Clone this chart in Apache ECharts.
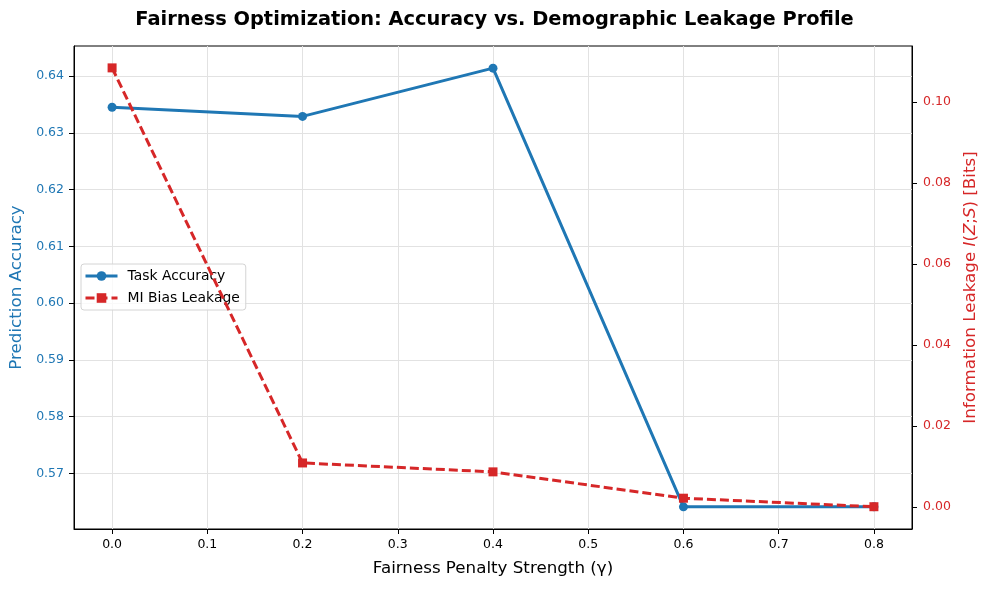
<!DOCTYPE html>
<html>
<head>
<meta charset="utf-8">
<script src="https://cdn.jsdelivr.net/npm/echarts@6/dist/echarts.min.js"></script>
<style>
  html, body { margin: 0; padding: 0; background: #fff; }
  #chart { width: 989px; height: 590px; }
</style>
</head>
<body>
<div id="chart"></div>
<script>
// penalty strengths (x) and the two measured series
var gammaValues = [0.0, 0.2, 0.4, 0.6, 0.8];
var taskAccuracy = [0.6345, 0.6329, 0.6414, 0.5641, 0.5641];
var miLeakage = [0.1084, 0.0109, 0.0087, 0.0022, 0.0001];

var xTicks = [0.0, 0.1, 0.2, 0.3, 0.4, 0.5, 0.6, 0.7, 0.8];
var accTicks = [0.57, 0.58, 0.59, 0.60, 0.61, 0.62, 0.63, 0.64];
var leakTicks = [0.00, 0.02, 0.04, 0.06, 0.08, 0.10];

var blue = '#1f77b4';
var red = '#d62728';
var font = 'DejaVu Sans';

function pairs(xs, ys) {
  var out = [];
  for (var i = 0; i < xs.length; i++) out.push([xs[i], ys[i]]);
  return out;
}

var myChart = echarts.init(document.getElementById('chart'));
var option = {
  backgroundColor: '#fff',
  animation: false,
  textStyle: { fontFamily: font },
  title: {
    text: 'Fairness Optimization: Accuracy vs. Demographic Leakage Profile',
    left: 'center',
    top: 5,
    textStyle: { fontFamily: font, fontSize: 19.4, fontWeight: 'bold', color: '#000' }
  },
  grid: {
    left: 74, right: 77, top: 46, bottom: 61,
    outerBoundsMode: 'none',
    show: true, borderColor: '#000', borderWidth: 1, backgroundColor: 'transparent'
  },
  legend: {
    orient: 'vertical',
    left: 81, top: 264,
    itemWidth: 32, itemHeight: 12, itemGap: 8,
    padding: [5, 6, 5, 3],
    borderColor: '#d4d4d4', borderWidth: 1, borderRadius: 3,
    backgroundColor: 'rgba(255,255,255,0.8)',
    lineStyle: { width: 3 },
    textStyle: { fontFamily: font, fontSize: 13.9, color: '#000', padding: [0, 0, 0, 5] },
    data: ['Task Accuracy', 'MI Bias Leakage']
  },
  xAxis: {
    type: 'value',
    min: -0.04, max: 0.84,
    name: 'Fairness Penalty Strength (\u03b3)',
    nameLocation: 'middle', nameGap: 31,
    nameTextStyle: { fontFamily: font, fontSize: 16.7, color: '#000' },
    axisLine: { show: true, onZero: false, lineStyle: { color: '#000' } },
    axisTick: { show: true, length: 5, customValues: xTicks, lineStyle: { color: '#000' } },
    axisLabel: {
      customValues: xTicks, color: '#000', fontSize: 12.5, margin: 9, fontFamily: font,
      formatter: function (v) { return v.toFixed(1); }
    },
    splitLine: { show: true, lineStyle: { color: '#e2e2e2', width: 1 } }
  },
  yAxis: [
    {
      type: 'value',
      position: 'left',
      min: 0.5602, max: 0.6453,
      name: 'Prediction Accuracy',
      nameLocation: 'middle', nameGap: 47,
      nameTextStyle: { fontFamily: font, fontSize: 16.7, color: blue },
      axisLine: { show: true, onZero: false, lineStyle: { color: '#000' } },
      axisTick: { show: true, length: 5, customValues: accTicks, lineStyle: { color: '#000' } },
      axisLabel: {
        customValues: accTicks, color: blue, fontSize: 12.5, margin: 10, fontFamily: font,
        formatter: function (v) { return v.toFixed(2); }
      },
      splitLine: { show: true, lineStyle: { color: '#e2e2e2', width: 1 } }
    },
    {
      type: 'value',
      position: 'right',
      min: -0.0054, max: 0.1138,
      name: '{n|Information Leakage }{i|I}{n|(}{i|Z}{n|;}{i|S}{n|) [Bits]}',
      nameLocation: 'middle', nameGap: 49, nameRotate: 90,
      nameTextStyle: {
        fontFamily: font, fontSize: 16.7, color: red,
        rich: {
          n: { fontFamily: font, fontSize: 16.7, color: red },
          i: { fontFamily: font, fontSize: 16.7, color: red, fontStyle: 'italic' }
        }
      },
      axisLine: { show: true, onZero: false, lineStyle: { color: '#000' } },
      axisTick: { show: true, length: 5, customValues: leakTicks, lineStyle: { color: '#000' } },
      axisLabel: {
        customValues: leakTicks, color: red, fontSize: 12.5, margin: 11, fontFamily: font,
        formatter: function (v) { return v.toFixed(2); }
      },
      splitLine: { show: false }
    }
  ],
  series: [
    {
      name: 'Task Accuracy',
      type: 'line',
      yAxisIndex: 0,
      data: pairs(gammaValues, taskAccuracy),
      symbol: 'circle', symbolSize: 9,
      lineStyle: { color: blue, width: 3 },
      itemStyle: { color: blue },
      z: 3
    },
    {
      name: 'MI Bias Leakage',
      type: 'line',
      yAxisIndex: 1,
      data: pairs(gammaValues, miLeakage),
      symbol: 'rect', symbolSize: 9,
      lineStyle: { color: red, width: 3, type: [9, 4] },
      itemStyle: { color: red },
      z: 4
    }
  ]
};
myChart.setOption(option);
</script>
</body>
</html>
